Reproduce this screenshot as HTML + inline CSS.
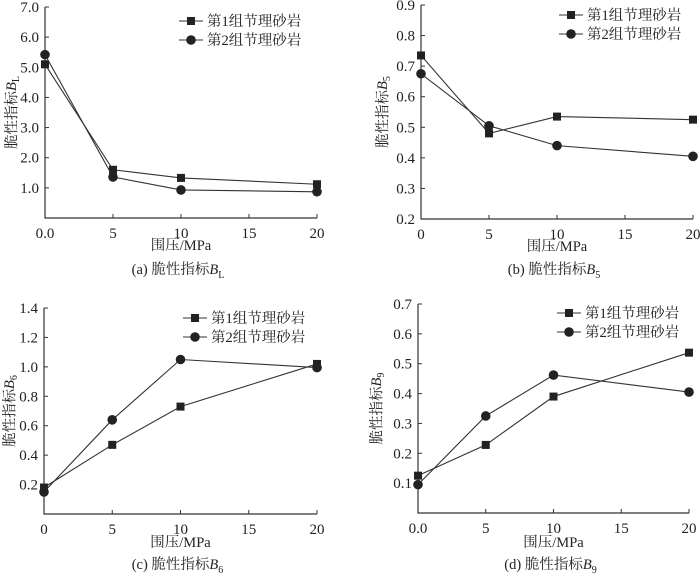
<!DOCTYPE html>
<html><head><meta charset="utf-8"><style>
body{margin:0;background:#fff}
svg{display:block;font-family:"Liberation Serif","Noto Serif CJK SC",serif;}
</style></head><body>
<svg id="chart" width="700" height="577" viewBox="0 0 700 577" xmlns="http://www.w3.org/2000/svg"></svg>
<script>
const xValues=[0,5,10,20];
const xTicks=[5,10,15,20];
const aS1=[5.1,1.6,1.33,1.12];
const aS2=[5.42,1.36,0.93,0.87];
const aYTicks=[1,2,3,4,5,6,7];
const bS1=[0.735,0.48,0.535,0.525];
const bS2=[0.675,0.505,0.44,0.405];
const bYTicks=[0.2,0.3,0.4,0.5,0.6,0.7,0.8,0.9];
const cS1=[0.18,0.47,0.73,1.02];
const cS2=[0.15,0.64,1.05,0.995];
const cYTicks=[0.2,0.4,0.6,0.8,1.0,1.2,1.4];
const dS1=[0.125,0.228,0.39,0.537];
const dS2=[0.095,0.325,0.462,0.405];
const dYTicks=[0.1,0.2,0.3,0.4,0.5,0.6,0.7];
const seriesNames=["第1组节理砂岩","第2组节理砂岩"];

const NS="http://www.w3.org/2000/svg";
const svg=document.getElementById('chart');
function mk(tag,attrs,parent){const e=document.createElementNS(NS,tag);for(const k in attrs)e.setAttribute(k,attrs[k]);(parent||svg).appendChild(e);return e;}

const panels=[
 {id:'a',s1:aS1,s2:aS2,yt:aYTicks,ymin:0,ymax:7,dec:1,left:45,bottom:218,top:7,x20:317,origin:'0.0',sub:'L',letter:'(a)',legX:179,legY:21,ytx:13,xtY:250,capY:274,noBottomTick:true},
 {id:'b',s1:bS1,s2:bS2,yt:bYTicks,ymin:0.2,ymax:0.9,dec:1,left:421,bottom:219,top:5,x20:693,origin:'0',sub:'5',letter:'(b)',legX:559,legY:15,ytx:384,xtY:251,capY:274},
 {id:'c',s1:cS1,s2:cS2,yt:cYTicks,ymin:0,ymax:1.4,dec:1,left:44,bottom:514,top:308,x20:317,origin:'0',sub:'6',letter:'(c)',legX:183,legY:318,ytx:11,xtY:547,capY:569},
 {id:'d',s1:dS1,s2:dS2,yt:dYTicks,ymin:0,ymax:0.7,dec:1,left:418,bottom:513,top:304,x20:689,origin:'0.0',sub:'9',letter:'(d)',legX:557,legY:313,ytx:378,xtY:547,capY:569}
];

panels.forEach(p=>{
 const g=mk('g',{});
 
 
 const xs=v=>p.left+(v/20)*(p.x20-p.left);
 const ys=v=>p.bottom-(v-p.ymin)/(p.ymax-p.ymin)*(p.bottom-p.top);
 const ax=mk('path',{d:`M${p.left},${p.top} V${p.bottom} H${p.x20}`,fill:'none',stroke:'#333','stroke-width':1.2},g);
 
 
 p.yt.forEach(t=>{
  const y=ys(t);
  mk('line',{x1:p.left,x2:p.left+4,y1:y,y2:y,stroke:'#333','stroke-width':1},g);
  if(Math.abs(t-p.ymin)<1e-9 && p.ymin===0) return;
  const tx=mk('text',{x:p.left-6,y:y+5,'text-anchor':'end','font-size':15,fill:'#222'},g);
  tx.textContent=t.toFixed(p.dec);
  
  
 });
 const o=mk('text',{x:p.left,y:p.bottom+20,'text-anchor':'middle','font-size':15,fill:'#222'},g);
 o.textContent=p.origin;
 xTicks.forEach(t=>{
  const x=xs(t);
  mk('line',{x1:x,x2:x,y1:p.bottom,y2:p.bottom-4,stroke:'#333','stroke-width':1},g);
  const tx=mk('text',{x:x,y:p.bottom+20,'text-anchor':'middle','font-size':15,fill:'#222'},g);
  tx.textContent=t;
  
  
 });
 [p.s1,p.s2].forEach((s,si)=>{
  const pts=s.map((v,i)=>xs(xValues[i])+','+ys(v)).join(' ');
  const pl=mk('polyline',{points:pts,fill:'none',stroke:'#333','stroke-width':1.1},g);
  
  
  s.forEach((v,i)=>{
   const x=xs(xValues[i]),y=ys(v);
   let m;
   if(si===0) m=mk('rect',{x:x-4,y:y-4,width:8,height:8,fill:'#222'},g);
   else m=mk('circle',{cx:x,cy:y,r:4.8,fill:'#222'},g);
   
   
  });
  const ly=p.legY+si*19;
  const lg=mk('g',{},g);
  
  
  mk('line',{x1:p.legX,x2:p.legX+24,y1:ly,y2:ly,stroke:'#333','stroke-width':1.1},lg);
  if(si===0) mk('rect',{x:p.legX+8,y:ly-4,width:8,height:8,fill:'#222'},lg);
  else mk('circle',{cx:p.legX+12,cy:ly,r:4.8,fill:'#222'},lg);
  const lt=mk('text',{x:p.legX+28,y:ly+5,'font-size':14.5,fill:'#222'},lg);
  lt.textContent=seriesNames[si];
 });
 const xt=mk('text',{x:(p.left+p.x20)/2,y:p.xtY,'text-anchor':'middle','font-size':14.5,fill:'#222'},g);
 xt.textContent='围压/MPa';
 
 
 const cy=(p.top+p.bottom)/2;
 const yt=mk('text',{x:p.ytx,y:cy,'text-anchor':'middle','font-size':14.5,fill:'#222',transform:`rotate(-90 ${p.ytx} ${cy})`,'dominant-baseline':'middle'},g);
 yt.innerHTML='脆性指标<tspan font-style="italic">B</tspan><tspan font-size="10" dy="4">'+p.sub+'</tspan>';
 
 
 const cap=mk('text',{x:(p.left+p.x20)/2-3,y:p.capY,'text-anchor':'middle','font-size':14.5,fill:'#222'},g);
 cap.innerHTML=p.letter+' 脆性指标<tspan font-style="italic">B</tspan><tspan font-size="10" dy="4">'+p.sub+'</tspan>';
 
 
});
</script>
</body></html>
